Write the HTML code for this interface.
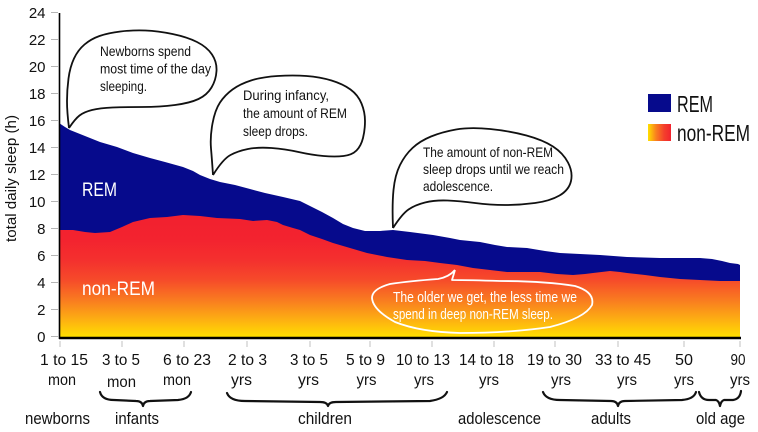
<!DOCTYPE html>
<html><head><meta charset="utf-8"><style>
html,body{margin:0;padding:0;background:#fff;}
svg{display:block;}
text{font-family:"Liberation Sans",Arial,sans-serif;}
</style></head><body>
<svg width="758" height="432" viewBox="0 0 758 432" xmlns="http://www.w3.org/2000/svg">
<defs>
<linearGradient id="nr" gradientUnits="userSpaceOnUse" x1="0" y1="337" x2="0" y2="215">
<stop offset="0" stop-color="#ffdf00"/>
<stop offset="0.14" stop-color="#fdb012"/>
<stop offset="0.3" stop-color="#f97c20"/>
<stop offset="0.47" stop-color="#f64a2a"/>
<stop offset="0.63" stop-color="#f4302e"/>
<stop offset="0.8" stop-color="#f3232f"/>
<stop offset="1" stop-color="#f2202f"/>
</linearGradient>
<linearGradient id="lg" x1="0" y1="0" x2="1" y2="0">
<stop offset="0" stop-color="#ffe000"/>
<stop offset="0.35" stop-color="#f9801f"/>
<stop offset="0.7" stop-color="#f4402c"/>
<stop offset="1" stop-color="#f2232f"/>
</linearGradient>
</defs>

<!-- REM area (total) -->
<path fill="#060a8c" d="M59,337 L59,123 65,127 70,130 80,134 90,138 100,142 117,147 133,153 150,158 165,162 183,167 193,171 200,175 210,179 220,182 235,185 250,189 265,193 283,197 300,201 310,206 322,212 333,218 343,224 353,228 365,231 380,231 393,230 410,232 433,235 450,238 460,240 480,242 495,245 507,247 527,248 545,251 560,253 580,254 600,255 627,257 660,258 700,258 712,259 722,261 730,263 738,264 740,265 L740,337 Z"/>
<!-- non-REM area -->
<path fill="url(#nr)" d="M59,337 L59,230 73,230 85,232 95,233 110,232 122,227 133,222 150,218 167,217 183,215 200,216 217,218 240,219 253,221 267,220 277,222 283,225 293,228 300,230 310,235 322,239 333,243 350,248 367,253 387,257 407,260 425,261 440,263 457,265 473,268 490,270 507,272 525,272 540,272 557,274 573,275 585,274 593,273 610,271 620,272 627,273 645,275 660,277 680,279 700,280 720,281 740,281 L740,337 Z"/>

<!-- axes -->
<line x1="59.5" y1="13" x2="59.5" y2="339" stroke="#000" stroke-width="1.6"/>
<line x1="59" y1="338" x2="741" y2="338" stroke="#000" stroke-width="2.6"/>

<!-- y ticks -->
<g stroke="#b5b5b5" stroke-width="1">
<line x1="51" y1="12.5" x2="58" y2="12.5"/><line x1="51" y1="39.5" x2="58" y2="39.5"/>
<line x1="51" y1="66.5" x2="58" y2="66.5"/><line x1="51" y1="93.5" x2="58" y2="93.5"/>
<line x1="51" y1="120.5" x2="58" y2="120.5"/><line x1="51" y1="147.5" x2="58" y2="147.5"/>
<line x1="51" y1="174.5" x2="58" y2="174.5"/><line x1="51" y1="201.5" x2="58" y2="201.5"/>
<line x1="51" y1="228.5" x2="58" y2="228.5"/><line x1="51" y1="255.5" x2="58" y2="255.5"/>
<line x1="51" y1="282.5" x2="58" y2="282.5"/><line x1="51" y1="309.5" x2="58" y2="309.5"/>
<line x1="51" y1="336.5" x2="58" y2="336.5"/>
</g>
<g font-size="15" text-anchor="end" fill="#111">
<text x="45.5" y="18">24</text><text x="45.5" y="45">22</text><text x="45.5" y="72">20</text>
<text x="45.5" y="99">18</text><text x="45.5" y="126">16</text><text x="45.5" y="153">14</text>
<text x="45.5" y="180">12</text><text x="45.5" y="207">10</text><text x="45.5" y="234">8</text>
<text x="45.5" y="261">6</text><text x="45.5" y="288">4</text><text x="45.5" y="315">2</text>
<text x="45.5" y="342">0</text>
</g>
<text font-size="15" fill="#111" text-anchor="middle" transform="translate(16,178.5) rotate(-90)" textLength="127" lengthAdjust="spacingAndGlyphs">total daily sleep (h)</text>

<!-- x ticks -->
<g stroke="#c0c0c0" stroke-width="1">
<line x1="60" y1="341" x2="60" y2="347"/><line x1="122" y1="341" x2="122" y2="347"/>
<line x1="184" y1="341" x2="184" y2="347"/><line x1="247" y1="341" x2="247" y2="347"/>
<line x1="310" y1="341" x2="310" y2="347"/><line x1="370" y1="341" x2="370" y2="347"/>
<line x1="432" y1="341" x2="432" y2="347"/><line x1="494" y1="341" x2="494" y2="347"/>
<line x1="555" y1="341" x2="555" y2="347"/><line x1="618" y1="341" x2="618" y2="347"/>
<line x1="684" y1="341" x2="684" y2="347"/><line x1="740" y1="341" x2="740" y2="347"/>
</g>

<!-- x labels -->
<g font-size="16" fill="#111" text-anchor="middle" lengthAdjust="spacingAndGlyphs">
<text x="64" y="365" textLength="48" lengthAdjust="spacingAndGlyphs">1 to 15</text>
<text x="62" y="385" textLength="28" lengthAdjust="spacingAndGlyphs">mon</text>
<text x="121" y="365" textLength="38" lengthAdjust="spacingAndGlyphs">3 to 5</text>
<text x="121.5" y="387" textLength="29" lengthAdjust="spacingAndGlyphs">mon</text>
<text x="187" y="365" textLength="48" lengthAdjust="spacingAndGlyphs">6 to 23</text>
<text x="177" y="385" textLength="28" lengthAdjust="spacingAndGlyphs">mon</text>
<text x="247.5" y="365" textLength="39" lengthAdjust="spacingAndGlyphs">2 to 3</text>
<text x="241.5" y="385" textLength="21" lengthAdjust="spacingAndGlyphs">yrs</text>
<text x="309" y="365" textLength="38" lengthAdjust="spacingAndGlyphs">3 to 5</text>
<text x="308.5" y="385" textLength="21" lengthAdjust="spacingAndGlyphs">yrs</text>
<text x="365.5" y="365" textLength="39" lengthAdjust="spacingAndGlyphs">5 to 9</text>
<text x="366.5" y="385" textLength="20" lengthAdjust="spacingAndGlyphs">yrs</text>
<text x="423" y="365" textLength="54" lengthAdjust="spacingAndGlyphs">10 to 13</text>
<text x="424" y="385" textLength="20" lengthAdjust="spacingAndGlyphs">yrs</text>
<text x="486.5" y="365" textLength="55" lengthAdjust="spacingAndGlyphs">14 to 18</text>
<text x="489" y="385" textLength="20" lengthAdjust="spacingAndGlyphs">yrs</text>
<text x="554.5" y="365" textLength="55" lengthAdjust="spacingAndGlyphs">19 to 30</text>
<text x="561" y="385" textLength="20" lengthAdjust="spacingAndGlyphs">yrs</text>
<text x="623" y="365" textLength="56" lengthAdjust="spacingAndGlyphs">33 to 45</text>
<text x="627" y="385" textLength="20" lengthAdjust="spacingAndGlyphs">yrs</text>
<text x="684" y="365" textLength="18" lengthAdjust="spacingAndGlyphs">50</text>
<text x="684" y="385" textLength="20" lengthAdjust="spacingAndGlyphs">yrs</text>
<text x="738" y="365" textLength="15" lengthAdjust="spacingAndGlyphs">90</text>
<text x="740" y="385" textLength="20" lengthAdjust="spacingAndGlyphs">yrs</text>
</g>
<g font-size="17" fill="#111" text-anchor="middle">
<text x="57.5" y="424" textLength="65" lengthAdjust="spacingAndGlyphs">newborns</text>
<text x="137" y="424" textLength="44" lengthAdjust="spacingAndGlyphs">infants</text>
<text x="325" y="424" textLength="54" lengthAdjust="spacingAndGlyphs">children</text>
<text x="499.5" y="424" textLength="83" lengthAdjust="spacingAndGlyphs">adolescence</text>
<text x="611" y="424" textLength="40" lengthAdjust="spacingAndGlyphs">adults</text>
<text x="720.5" y="424" textLength="49" lengthAdjust="spacingAndGlyphs">old age</text>
</g>

<!-- braces -->
<g fill="none" stroke="#111" stroke-width="2.2" stroke-linecap="round" stroke-linejoin="round">
<path d="M100,392 Q102,400 114,400 L136,401 Q142,401 143,406 Q144,401 150,401 L178,400 Q189,399 191,392"/>
<path d="M227,393 Q230,401 245,401 L320,402 Q327,402 328,406 Q329,402 336,402 L430,401 Q444,399 447,392"/>
<path d="M543,392 Q546,400 560,400 L611,401 Q617,401 618,406 Q619,401 625,401 L682,400 Q694,399 696,392"/>
<path d="M699,392 Q701,400 709,400 L716,400 Q719,401 720,406 Q721,401 724,400 L733,400 Q740,399 741,391"/>
</g>

<!-- area labels -->
<text x="82" y="196" font-size="19.5" fill="#fff" textLength="35" lengthAdjust="spacingAndGlyphs">REM</text>
<text x="82" y="295" font-size="19.5" fill="#fff" textLength="73" lengthAdjust="spacingAndGlyphs">non-REM</text>

<!-- legend -->
<rect x="648" y="94" width="23" height="18" fill="#060a8c"/>
<text x="677" y="112" font-size="23" fill="#111" textLength="36" lengthAdjust="spacingAndGlyphs">REM</text>
<rect x="648" y="124" width="23" height="17" fill="url(#lg)"/>
<text x="677" y="141" font-size="23" fill="#111" textLength="73" lengthAdjust="spacingAndGlyphs">non-REM</text>

<!-- bubbles -->
<g fill="none" stroke="#111" stroke-width="1.8" stroke-linejoin="round">
<path d="M69,128 Q67,112 67,101 Q67,90 68.5,78.5 Q70,67 74,58.5 Q78,50 84.5,44.5 Q91,39 99.5,36 Q108,33 120.5,31.5 Q133,30 145.5,30.5 Q158,31 172.5,34 Q187,37 197,42 Q207,47 212,54.5 Q217,62 216.5,71 Q216,80 211.5,87.5 Q207,95 198.5,99 Q190,103 175,105 Q160,107 142.5,107 Q125,107 112.5,107.5 Q100,108 92,110 Q84,112 79.5,115.5 Q75,119 69,128"/>
<path d="M213,175 Q212,160 211,148.5 Q210,137 212.5,123.5 Q215,110 220,102.5 Q225,95 232.5,89.5 Q240,84 251,80.5 Q262,77 277.5,76 Q293,75 306.5,76 Q320,77 331.5,80.5 Q343,84 350.5,89.5 Q358,95 361.5,103.5 Q365,112 365,121 Q365,130 363,138 Q361,146 356.5,150.5 Q352,155 343.5,156 Q335,157 323.5,156 Q312,155 298.5,152 Q285,149 271.5,148 Q258,147 248,149 Q238,151 230.5,155 Q223,159 213,175"/>
<path d="M393,228 Q392,205 393.5,190 Q395,175 400,165 Q405,155 412.5,148 Q420,141 431,136.5 Q442,132 456,129.5 Q470,127 490,129 Q510,131 526.5,135.5 Q543,140 553,146.5 Q563,153 568,162.5 Q573,172 571,181 Q569,190 559.5,195.5 Q550,201 535,203 Q520,205 505,205 Q490,205 475,203 Q460,201 447.5,200.5 Q435,200 425,202.5 Q415,205 408.5,209.5 Q402,214 393,228"/>
</g>
<path fill="none" stroke="#fff" stroke-width="1.8" stroke-linejoin="round" d="M455,270 Q449,277 438,279 Q410,281 390,284 Q372,289 372,298 Q373,310 395,322 Q420,332 460,333 Q510,333 550,327 Q585,318 592,305 Q595,292 575,286 Q545,281 500,281 Q470,280 452,280 L455,270"/>

<g font-size="14" fill="#111">
<text x="100" y="56" textLength="91" lengthAdjust="spacingAndGlyphs">Newborns spend</text>
<text x="100" y="73.5" textLength="111" lengthAdjust="spacingAndGlyphs">most time of the day</text>
<text x="100" y="91" textLength="47" lengthAdjust="spacingAndGlyphs">sleeping.</text>
<text x="243" y="100" textLength="86" lengthAdjust="spacingAndGlyphs">During infancy,</text>
<text x="243" y="118" textLength="104" lengthAdjust="spacingAndGlyphs">the amount of REM</text>
<text x="243" y="136" textLength="65" lengthAdjust="spacingAndGlyphs">sleep drops.</text>
<text x="423" y="157" textLength="130" lengthAdjust="spacingAndGlyphs">The amount of non-REM</text>
<text x="423" y="174" textLength="141" lengthAdjust="spacingAndGlyphs">sleep drops until we reach</text>
<text x="423" y="191" textLength="70" lengthAdjust="spacingAndGlyphs">adolescence.</text>
</g>
<g font-size="14.5" fill="#fff">
<text x="393" y="302" textLength="184" lengthAdjust="spacingAndGlyphs">The older we get, the less time we</text>
<text x="393" y="319" textLength="160" lengthAdjust="spacingAndGlyphs">spend in deep non-REM sleep.</text>
</g>
</svg>
</body></html>
